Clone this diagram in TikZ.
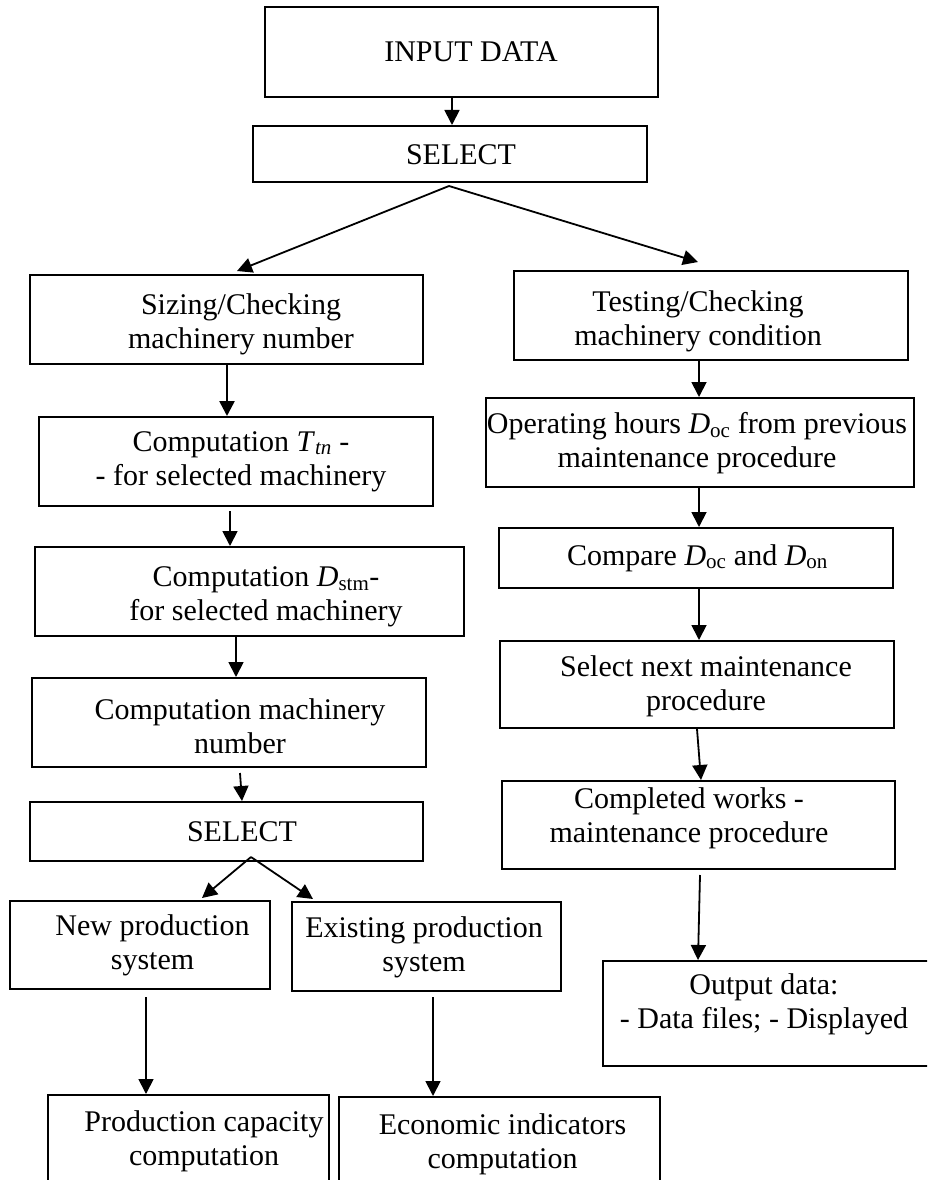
\documentclass[tikz,border=0pt]{standalone}
\usepackage{fontspec}
\setmainfont{Liberation Serif}
\usetikzlibrary{arrows.meta}
\begin{document}
\begin{tikzpicture}[x=1pt,y=-1pt,
  box/.style={draw, line width=2pt, inner sep=0pt, rectangle},
  txt/.style={align=center, inner sep=0pt, font={\fontsize{30}{34}\selectfont}},
  arr/.style={line width=1.8pt, -{Triangle[length=15pt,width=15pt]}}]
\useasboundingbox (0,0) rectangle (927,1180);
\fill[white] (0,0) rectangle (927,1180);
\clip (0,0) rectangle (927,1180);
% boxes
\node[box, minimum width=393pt, minimum height=90pt] (in)   at (461.5,52) {};
\node[box, minimum width=394pt, minimum height=56pt] (sel1) at (450,154) {};
\node[box, minimum width=393pt, minimum height=89pt] (siz)  at (226.5,319.5) {};
\node[box, minimum width=394pt, minimum height=89pt] (tst)  at (711,315.5) {};
\node[box, minimum width=394pt, minimum height=89pt] (tm)   at (236,461.5) {};
\node[box, minimum width=428pt, minimum height=89pt] (op)   at (700,442.5) {};
\node[box, minimum width=429pt, minimum height=89pt] (ds)   at (249.5,591.5) {};
\node[box, minimum width=394pt, minimum height=60pt] (cmp)  at (696,558) {};
\node[box, minimum width=394pt, minimum height=89pt] (cmn)  at (229,722.5) {};
\node[box, minimum width=394pt, minimum height=87pt] (snx)  at (697,684.5) {};
\node[box, minimum width=393pt, minimum height=59pt] (sel2) at (226.5,831.5) {};
\node[box, minimum width=393pt, minimum height=88pt] (cw)   at (698.5,825) {};
\node[box, minimum width=260pt, minimum height=88pt] (np)   at (140,945) {};
\node[box, minimum width=269pt, minimum height=89pt] (ep)   at (426.5,946.5) {};
\node[box, minimum width=394pt, minimum height=105pt] (out) at (800,1013.5) {};
\node[box, minimum width=281pt, minimum height=105pt] (pc)  at (188.5,1147.5) {};
\node[box, minimum width=321pt, minimum height=103pt] (ec)  at (499.5,1148.5) {};
% texts
\node[txt] (tin)   at (471,52) {INPUT DATA};
\node[txt] (tsel1) at (461,155) {SELECT};
\node[txt] (tsiz)  at (241,324.5) {Sizing/Checking\\machinery number};
\node[txt] (ttst)  at (698,321) {Testing/Checking\\machinery condition};
\node[txt] (ttm)   at (241,461.5) {Computation \textit{T}\textsubscript{\textit{tn}} -\\- for selected machinery};
\node[txt] (top)   at (697,443.5) {Operating hours \textit{D}\textsubscript{oc} from previous\\maintenance procedure};
\node[txt] (tds)   at (266,597) {Computation \textit{D}\textsubscript{stm}-\\for selected machinery};
\node[txt] (tcmp)  at (697.5,558) {Compare \textit{D}\textsubscript{oc} and \textit{D}\textsubscript{on}};
\node[txt] (tcmn)  at (240,726.5) {Computation machinery\\number};
\node[txt] (tsnx)  at (706,686.5) {Select next maintenance\\procedure};
\node[txt] (tsel2) at (242,832) {SELECT};
\node[txt] (tcw)   at (689,818.5) {Completed works -\\maintenance procedure};
\node[txt] (tnp)   at (152.5,945) {New production\\system};
\node[txt] (tep)   at (424,947.5) {Existing production\\system};
\node[txt] (tout)  at (764,1004.5) {Output data:\\- Data files; - Displayed};
\node[txt] (tpc)   at (204,1141.5) {Production capacity\\computation};
\node[txt] (tec)   at (502.5,1144) {Economic indicators\\computation};
% fan points
\coordinate (f1) at (449,186);
\coordinate (f2) at (251,857);
% connectors
\draw[arr] ([xshift=-9.5pt]in.south) -- ([xshift=2pt]sel1.north);
\draw[arr] (f1) -- ([xshift=10.5pt,yshift=3pt]siz.north);
\draw[arr] (f1) -- ([xshift=-13pt,yshift=8pt]tst.north);
\draw[arr, line width=2.6pt] ([xshift=0.5pt]siz.south) -- ([xshift=-9pt]tm.north);
\draw[arr] ([xshift=-6pt,yshift=-4pt]tm.south) -- ([xshift=-19.5pt]ds.north);
\draw[arr] ([xshift=-13.5pt]ds.south) -- ([xshift=7pt]cmn.north);
\draw[arr] ([xshift=11pt,yshift=-5pt]cmn.south) -- ([xshift=15.5pt]sel2.north);
\draw[arr] (f2) -- ([xshift=62pt,yshift=2pt]np.north);
\draw[arr] (f2) -- ([xshift=-113.5pt,yshift=2pt]ep.north);
\draw[arr] ([xshift=6pt,yshift=-7pt]np.south) -- ([xshift=-42.5pt]pc.north);
\draw[arr] ([xshift=6.5pt,yshift=-5pt]ep.south) -- ([xshift=-66.5pt]ec.north);
\draw[arr] ([xshift=-12pt]tst.south) -- ([xshift=-1pt]op.north);
\draw[arr] ([xshift=-1pt]op.south) -- ([xshift=3pt]cmp.north);
\draw[arr] ([xshift=3pt]cmp.south) -- ([xshift=2pt]snx.north);
\draw[arr] (snx.south) -- ([xshift=2.5pt]cw.north);
\draw[arr] ([xshift=1.5pt,yshift=-5pt]cw.south) -- ([xshift=-102pt]out.north);
\end{tikzpicture}
\end{document}
